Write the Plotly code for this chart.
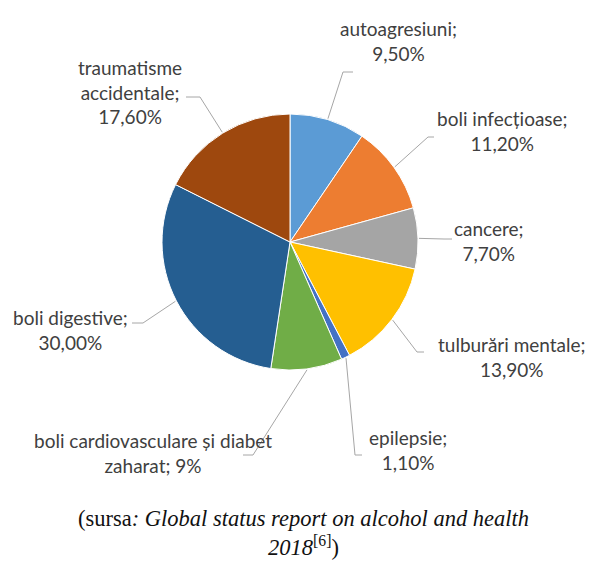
import math
import plotly.graph_objects as go

# ---- data ----
categories = ["autoagresiuni", "boli infecțioase", "cancere", "tulburări mentale",
              "epilepsie", "boli cardiovasculare și diabet zaharat", "boli digestive",
              "traumatisme accidentale"]
values = [9.5, 11.2, 7.7, 13.9, 1.1, 9.0, 30.0, 17.6]
value_labels = ["9,50%", "11,20%", "7,70%", "13,90%", "1,10%", "9%", "30,00%", "17,60%"]
label_texts = ["autoagresiuni;<br>9,50%", "boli infecțioase;<br>11,20%", "cancere;<br>7,70%",
               "tulburări mentale;<br>13,90%", "epilepsie;<br>1,10%",
               "boli cardiovasculare și diabet<br>zaharat; 9%", "boli digestive;<br>30,00%",
               "traumatisme<br>accidentale;<br>17,60%"]
colors = ["#5B9BD5", "#ED7D31", "#A5A5A5", "#FFC000", "#4472C4", "#70AD47", "#255E91", "#9E480E"]

# ---- layout (pixels) ----
W, H = 592, 562
CX, CY, R = 290, 242, 128
# label text centres, leader elbows and leader ends
label_pos = [(398, 41), (502, 131), (489, 241), (512, 357), (408, 450), (153, 453), (70, 330), (130, 92)]
elbows = [(343, 72), (428, 137), (444, 239), (417, 352), (355, 455), (253, 455), (143, 323), (200, 97)]
ends = [(353, 72), (434, 137), (452, 239), (424, 352), (362, 455), (243, 455), (132, 323), (186, 97)]


def px(x):
    return x / W


def py(y):
    return 1 - y / H


fig = go.Figure()
fig.add_trace(go.Pie(
    labels=categories, values=values, sort=False, direction="clockwise", rotation=0,
    marker=dict(colors=colors, line=dict(color="white", width=1)),
    textinfo="none", showlegend=False,
    domain=dict(x=[px(CX - R), px(CX + R)], y=[py(CY + R), py(CY - R)]),
))

total = sum(values)
cum = 0.0
shapes = []
annotations = []
for i, v in enumerate(values):
    mid = (cum + v / 2) / total * 2 * math.pi
    cum += v
    sx = CX + (R + 1) * math.sin(mid)
    sy = CY - (R + 1) * math.cos(mid)
    ex, ey = elbows[i]
    fx, fy = ends[i]
    path = f"M {px(sx)},{py(sy)} L {px(ex)},{py(ey)} L {px(fx)},{py(fy)}"
    shapes.append(dict(type="path", xref="paper", yref="paper", path=path,
                       line=dict(color="#A6A6A6", width=1)))
    lx, ly = label_pos[i]
    annotations.append(dict(x=px(lx), y=py(ly), xref="paper", yref="paper",
                            text=label_texts[i], showarrow=False, xanchor="center",
                            yanchor="middle", align="center",
                            font=dict(family="Lato", size=19, color="#404040")))

annotations.append(dict(
    x=px(303), y=py(533), xref="paper", yref="paper", showarrow=False,
    xanchor="center", yanchor="middle", align="center",
    text="(sursa<i>: Global status report on alcohol and health</i><br><i>2018</i><sup>[6]</sup>)",
    font=dict(family="Liberation Serif", size=22.5, color="#111111")))

fig.update_layout(width=W, height=H, margin=dict(l=0, r=0, t=0, b=0),
                  paper_bgcolor="white", plot_bgcolor="white",
                  shapes=shapes, annotations=annotations)
fig.write_html("out.html", config={"displayModeBar": False},
               post_script="document.body.style.margin='0';")
